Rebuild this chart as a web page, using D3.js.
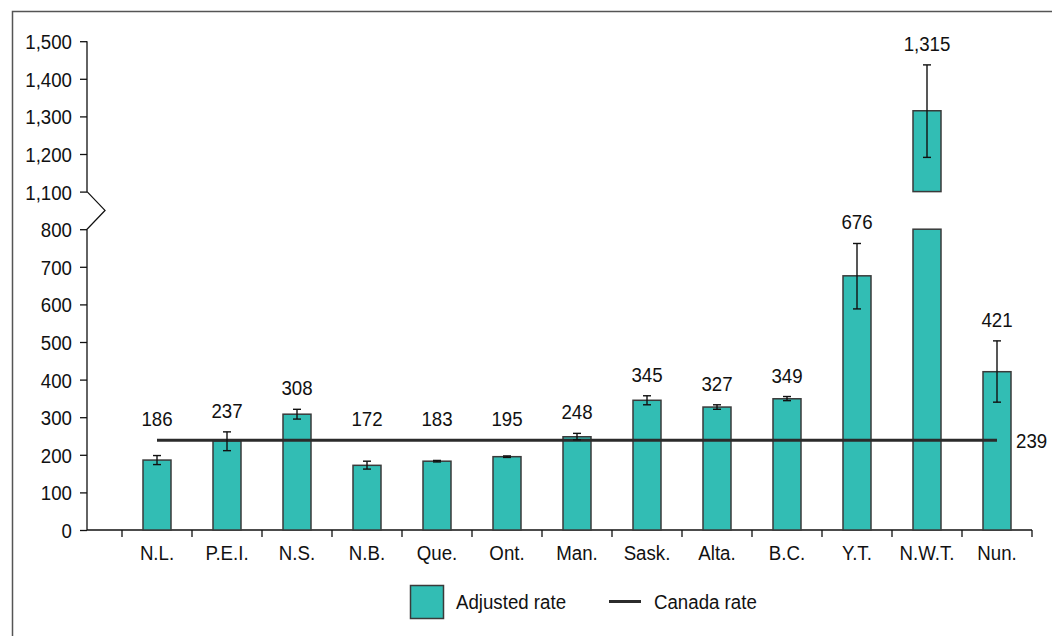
<!DOCTYPE html>
<html lang="en">
<head>
    <meta charset="UTF-8">
    <title>Adjusted rate by province / territory</title>
    <script src="https://d3js.org/d3.v7.min.js"></script>
    <style>
        body {
            margin: 0;
            padding: 0;
            background-color: #ffffff;
        }
        svg {
            display: block;
            font-family: "Liberation Sans", Arial, sans-serif;
        }
        svg text {
            font-size: 21px;
            fill: #111111;
        }
    </style>
</head>
<body>
    <svg></svg>

    <script>
        // data
        const provinces = ["N.L.", "P.E.I.", "N.S.", "N.B.", "Que.", "Ont.", "Man.", "Sask.", "Alta.", "B.C.", "Y.T.", "N.W.T.", "Nun."];
        const adjustedRate = [186, 237, 308, 172, 183, 195, 248, 345, 327, 349, 676, 1315, 421];
        const ciLow = [174, 211, 295, 162, 181, 193, 240, 333, 321, 344, 588, 1191, 340];
        const ciHigh = [198, 261, 321, 183, 185, 197, 257, 357, 333, 355, 762, 1437, 503];
        const canadaRate = 239;
        const yTicks = [0, 100, 200, 300, 400, 500, 600, 700, 800, 1100, 1200, 1300, 1400, 1500];
        const axisBreak = [800, 1100]; // values between these are cut out of the axis

        const width = 1052;
        const height = 636;
        const squeeze = 0.89; // the original font is a narrow Helvetica
        const barColor = "#32bdb4";
        const barStroke = "#3a3a3a";
        const lineColor = "#2b2b2b";

        const data = provinces.map((p, i) => ({
            province: p,
            rate: adjustedRate[i],
            lo: ciLow[i],
            hi: ciHigh[i]
        }));

        const svg = d3.select("svg")
            .attr("width", width)
            .attr("height", height);

        // text helper: put text at (x, y) squeezed horizontally
        function label(parent, x, y, txt, anchor) {
            return parent.append("text")
                .attr("transform", `translate(${x},${y}) scale(${squeeze},1)`)
                .attr("text-anchor", anchor || "start")
                .text(txt);
        }

        // outer frame (only left and top show inside the picture)
        svg.append("rect")
            .attr("x", 12.5)
            .attr("y", 11.5)
            .attr("width", 1200)
            .attr("height", 800)
            .attr("fill", "none")
            .attr("stroke", "#555555")
            .attr("stroke-width", 1.5);

        const axisX = 87;
        const baseY = 530;
        const step = 37.6; // px per 100

        // broken scale: 800 and 1100 are one tick step apart
        const y = d3.scaleLinear()
            .domain([0, axisBreak[0], axisBreak[1], 1500])
            .range([baseY, baseY - 8 * step, baseY - 9 * step, baseY - 13 * step]);

        const x = d3.scaleBand()
            .domain(provinces)
            .range([122, 1032])
            .paddingInner(0.6)
            .paddingOuter(0.3);

        const bandStep = x.step();
        const gapHalf = (bandStep - x.bandwidth()) / 2;
        const mid = p => x(p) + x.bandwidth() / 2;

        // y axis (ticks + labels), domain line drawn by hand for the break
        const yAxis = d3.axisLeft(y)
            .tickValues(yTicks)
            .tickSize(7)
            .tickPadding(8)
            .tickFormat(d3.format(","));

        const yAxisGroup = svg.append("g")
            .attr("transform", `translate(${axisX},0)`)
            .call(yAxis);
        yAxisGroup.attr("font-size", null).attr("font-family", null);
        yAxisGroup.select(".domain").remove();
        yAxisGroup.selectAll(".tick line").attr("stroke", "#111").attr("stroke-width", 1.3);
        yAxisGroup.selectAll(".tick text")
            .attr("x", -15 / squeeze)
            .attr("dy", "0.36em")
            .attr("transform", `scale(${squeeze},1)`)
            .attr("fill", null);

        const yBreakLow = y(axisBreak[0]);
        const yBreakHigh = y(axisBreak[1]);
        svg.append("path")
            .attr("d", `M${axisX},${y(0)} L${axisX},${yBreakLow} L${axisX + 18},${(yBreakLow + yBreakHigh) / 2} L${axisX},${yBreakHigh} L${axisX},${y(1500)}`)
            .attr("fill", "none")
            .attr("stroke", "#111")
            .attr("stroke-width", 1.3);

        // x axis: baseline + ticks between categories
        const xEnd = x(provinces[provinces.length - 1]) + x.bandwidth() + gapHalf;
        svg.append("line")
            .attr("x1", axisX)
            .attr("x2", xEnd)
            .attr("y1", baseY)
            .attr("y2", baseY)
            .attr("stroke", "#111")
            .attr("stroke-width", 1.3);

        const boundaries = provinces.map(p => x(p) - gapHalf).concat([xEnd]);

        svg.selectAll("line.xtick")
            .data(boundaries)
            .enter().append("line")
            .attr("class", "xtick")
            .attr("x1", d => d)
            .attr("x2", d => d)
            .attr("y1", baseY)
            .attr("y2", baseY + 7)
            .attr("stroke", "#111")
            .attr("stroke-width", 1.3);

        const xLabels = svg.append("g");
        provinces.forEach(p => label(xLabels, mid(p), 560, p, "middle"));

        // bars (split in two where the value crosses the axis break)
        const bars = svg.append("g");
        data.forEach(d => {
            const bx = x(d.province);
            const lowerTop = d.rate > axisBreak[0] ? axisBreak[0] : d.rate;
            bars.append("rect")
                .attr("x", bx)
                .attr("y", y(lowerTop))
                .attr("width", x.bandwidth())
                .attr("height", y(0) - y(lowerTop))
                .attr("fill", barColor)
                .attr("stroke", barStroke)
                .attr("stroke-width", 1.5);
            if (d.rate > axisBreak[1]) {
                bars.append("rect")
                    .attr("x", bx)
                    .attr("y", y(d.rate))
                    .attr("width", x.bandwidth())
                    .attr("height", y(axisBreak[1]) - y(d.rate))
                    .attr("fill", barColor)
                    .attr("stroke", barStroke)
                    .attr("stroke-width", 1.5);
            }
        });

        // Canada rate line
        const yCanada = y(canadaRate);
        svg.append("line")
            .attr("x1", mid(provinces[0]))
            .attr("x2", mid(provinces[provinces.length - 1]))
            .attr("y1", yCanada)
            .attr("y2", yCanada)
            .attr("stroke", lineColor)
            .attr("stroke-width", 3);

        label(svg, 1016, yCanada + 8, canadaRate);

        // error bars
        const capHalf = 4;
        const err = svg.append("g")
            .attr("stroke", "#111")
            .attr("stroke-width", 1.4);
        data.forEach(d => {
            const cx = mid(d.province);
            err.append("line")
                .attr("x1", cx).attr("x2", cx)
                .attr("y1", y(d.lo)).attr("y2", y(d.hi));
            [d.lo, d.hi].forEach(v => {
                err.append("line")
                    .attr("x1", cx - capHalf).attr("x2", cx + capHalf)
                    .attr("y1", y(v)).attr("y2", y(v));
            });
        });

        // value labels, kept above the error bar and above the Canada line
        const values = svg.append("g");
        data.forEach(d => {
            label(values, mid(d.province), Math.min(y(d.hi), yCanada) - 14, d3.format(",")(d.rate), "middle");
        });

        // legend
        const legend = svg.append("g");
        legend.append("rect")
            .attr("x", 410.5)
            .attr("y", 585.5)
            .attr("width", 33)
            .attr("height", 33)
            .attr("fill", barColor)
            .attr("stroke", barStroke)
            .attr("stroke-width", 1.5);
        label(legend, 456, 609, "Adjusted rate");
        legend.append("line")
            .attr("x1", 609)
            .attr("x2", 641)
            .attr("y1", 601.5)
            .attr("y2", 601.5)
            .attr("stroke", lineColor)
            .attr("stroke-width", 3);
        label(legend, 654, 609, "Canada rate");
    </script>
</body>
</html>
